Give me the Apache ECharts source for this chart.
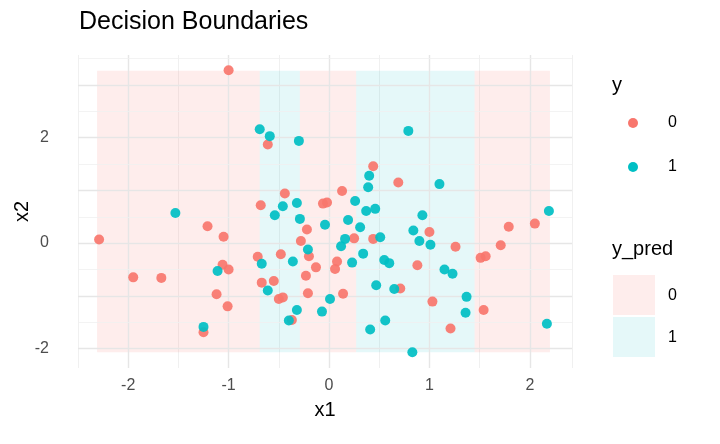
<!DOCTYPE html>
<html><head><meta charset="utf-8">
<script src="https://cdn.jsdelivr.net/npm/echarts@6/dist/echarts.min.js"></script>
<style>html,body{margin:0;padding:0;background:#fff}#c{width:720px;height:444px}</style>
</head><body><div id="c"></div>
<script>
const class0 = [[-1.00,3.28],[-0.61,1.87],[-0.44,0.94],[-0.68,0.72],[-1.21,0.32],[-1.05,0.12],[-2.29,0.07],[-0.22,0.26],[-0.28,0.04],[-0.71,-0.26],[-0.48,-0.21],[-0.20,-0.25],[-1.06,-0.41],[-1.00,-0.50],[-1.95,-0.65],[-1.67,-0.66],[-0.13,-0.46],[-0.23,-0.62],[-0.67,-0.75],[-0.55,-0.72],[-1.12,-0.97],[-0.21,-0.95],[-1.01,-1.20],[-0.50,-1.06],[-0.46,-1.03],[-0.37,-1.46],[-1.25,-1.69],[-0.06,0.75],[-0.02,0.77],[0.44,1.46],[0.69,1.15],[0.13,0.99],[0.25,0.09],[0.44,0.08],[1.00,0.21],[1.26,-0.07],[1.79,0.31],[2.05,0.37],[1.71,-0.04],[1.51,-0.28],[1.56,-0.25],[0.08,-0.35],[0.06,-0.49],[0.88,-0.42],[0.71,-0.86],[0.14,-0.96],[1.03,-1.11],[1.54,-1.27],[1.21,-1.62]];
const class1 = [[-0.69,2.16],[-0.59,2.03],[-0.30,1.94],[-1.53,0.57],[-0.46,0.70],[-0.32,0.76],[-0.54,0.53],[-0.29,0.46],[-0.04,0.35],[-0.21,-0.12],[-0.67,-0.39],[-0.36,-0.35],[-1.11,-0.53],[-0.61,-0.90],[-0.32,-1.27],[-0.40,-1.47],[-0.07,-1.30],[0.01,-1.06],[-1.25,-1.59],[0.79,2.13],[0.40,1.28],[0.39,1.06],[1.10,1.12],[0.26,0.80],[0.37,0.61],[0.46,0.65],[0.19,0.44],[0.31,0.30],[0.16,0.08],[0.12,-0.06],[0.51,0.11],[0.93,0.53],[0.84,0.24],[0.90,0.04],[1.01,-0.03],[0.34,-0.20],[0.23,-0.37],[0.55,-0.32],[0.60,-0.38],[1.15,-0.50],[1.23,-0.58],[2.19,0.61],[0.47,-0.80],[0.65,-0.87],[1.37,-1.02],[1.36,-1.32],[0.56,-1.47],[0.41,-1.64],[0.83,-2.07],[2.17,-1.53]];
// prediction regions: [x1 start, x1 end, predicted class]
const regions = [[-2.31,-0.69,0],[-0.69,-0.29,1],[-0.29,0.27,0],[0.27,1.45,1],[1.45,2.20,0]];
const regionY = [-2.07,3.27];
const xTicks = [-2,-1,0,1,2];
const yTicks = [-2,0,2];
const majorY = [-2,-1,0,1,2,3];

const RED='#F8766D', TEAL='#00BFC4';
const fillC = ['rgba(248,118,109,0.13)','rgba(0,191,196,0.1)'];
const chart = echarts.init(document.getElementById('c'));
const F='Liberation Sans';
chart.setOption({
  animation:false,
  title:{text:'Decision Boundaries',left:74,top:5,textStyle:{fontFamily:F,fontSize:25,fontWeight:'normal',color:'#000'}},
  grid:{left:78,right:148,top:55,bottom:76},
  xAxis:{type:'value',min:-2.5,max:2.42,interval:0.5,
    name:'x1',nameLocation:'middle',nameGap:32,nameTextStyle:{fontFamily:F,fontSize:20,color:'#000'},
    axisLine:{show:false},axisTick:{show:false},
    axisLabel:{fontFamily:F,fontSize:16,color:'#4d4d4d',margin:10,
      formatter:v=>xTicks.some(t=>Math.abs(t-v)<1e-6)?String(Math.round(v)):'',showMinLabel:true,showMaxLabel:false},
    splitLine:{lineStyle:{color:'#f0f0f0',width:1}}},
  yAxis:{type:'value',min:-2.37,max:3.57,interval:1,
    name:'x2',nameLocation:'middle',nameGap:46,nameTextStyle:{fontFamily:F,fontSize:20,color:'#000'},
    axisLine:{show:false},axisTick:{show:false},
    axisLabel:{show:false},
    splitLine:{show:false}},
  graphic:[
    ...yTicks.map(t=>({type:'text',x:49,y:243-t*52.7,style:{text:String(t),fontFamily:F,fontSize:16,fill:'#4d4d4d',align:'right',verticalAlign:'middle'}})),
    {type:'text',left:612,top:75,style:{text:'y',fontFamily:F,fontSize:20,fill:'#000'}},
    {type:'circle',shape:{cx:633,cy:123,r:5},style:{fill:RED}},
    {type:'circle',shape:{cx:633,cy:167,r:5},style:{fill:TEAL}},
    {type:'text',x:668,y:123,style:{text:'0',fontFamily:F,fontSize:16,fill:'#000',verticalAlign:'middle'}},
    {type:'text',x:668,y:167,style:{text:'1',fontFamily:F,fontSize:16,fill:'#000',verticalAlign:'middle'}},
    {type:'text',left:612,top:239,style:{text:'y_pred',fontFamily:F,fontSize:20,fill:'#000'}},
    {type:'rect',shape:{x:613,y:275,width:42,height:40},style:{fill:fillC[0]}},
    {type:'rect',shape:{x:613,y:317,width:42,height:40},style:{fill:fillC[1]}},
    {type:'text',x:668,y:296,style:{text:'0',fontFamily:F,fontSize:16,fill:'#000',verticalAlign:'middle'}},
    {type:'text',x:668,y:338,style:{text:'1',fontFamily:F,fontSize:16,fill:'#000',verticalAlign:'middle'}}
  ],
  series:[
    {type:'scatter',data:[],z:1,silent:true,
      markLine:{silent:true,symbol:'none',label:{show:false},lineStyle:{color:'#e6e6e6',width:1.4,type:'solid'},
        data:[...xTicks.map(t=>({xAxis:t})),...majorY.map(t=>({yAxis:t}))]}},
    {type:'scatter',data:[],z:2,silent:true,
      markLine:{silent:true,symbol:'none',label:{show:false},lineStyle:{color:'#f0f0f0',width:0.8,type:'solid'},
        data:[-1.5,-0.5,0.5,1.5,2.5,3.5].map(t=>({yAxis:t}))},
      markArea:{silent:true,data:regions.map(r=>[{xAxis:r[0],yAxis:regionY[0],itemStyle:{color:fillC[r[2]]}},{xAxis:r[1],yAxis:regionY[1]}])}},
    {name:'0',type:'scatter',data:class0,symbolSize:10,z:5,itemStyle:{color:RED,opacity:0.92}},
    {name:'1',type:'scatter',data:class1,symbolSize:10,z:5,itemStyle:{color:TEAL,opacity:0.92}}
  ]
});
</script></body></html>
